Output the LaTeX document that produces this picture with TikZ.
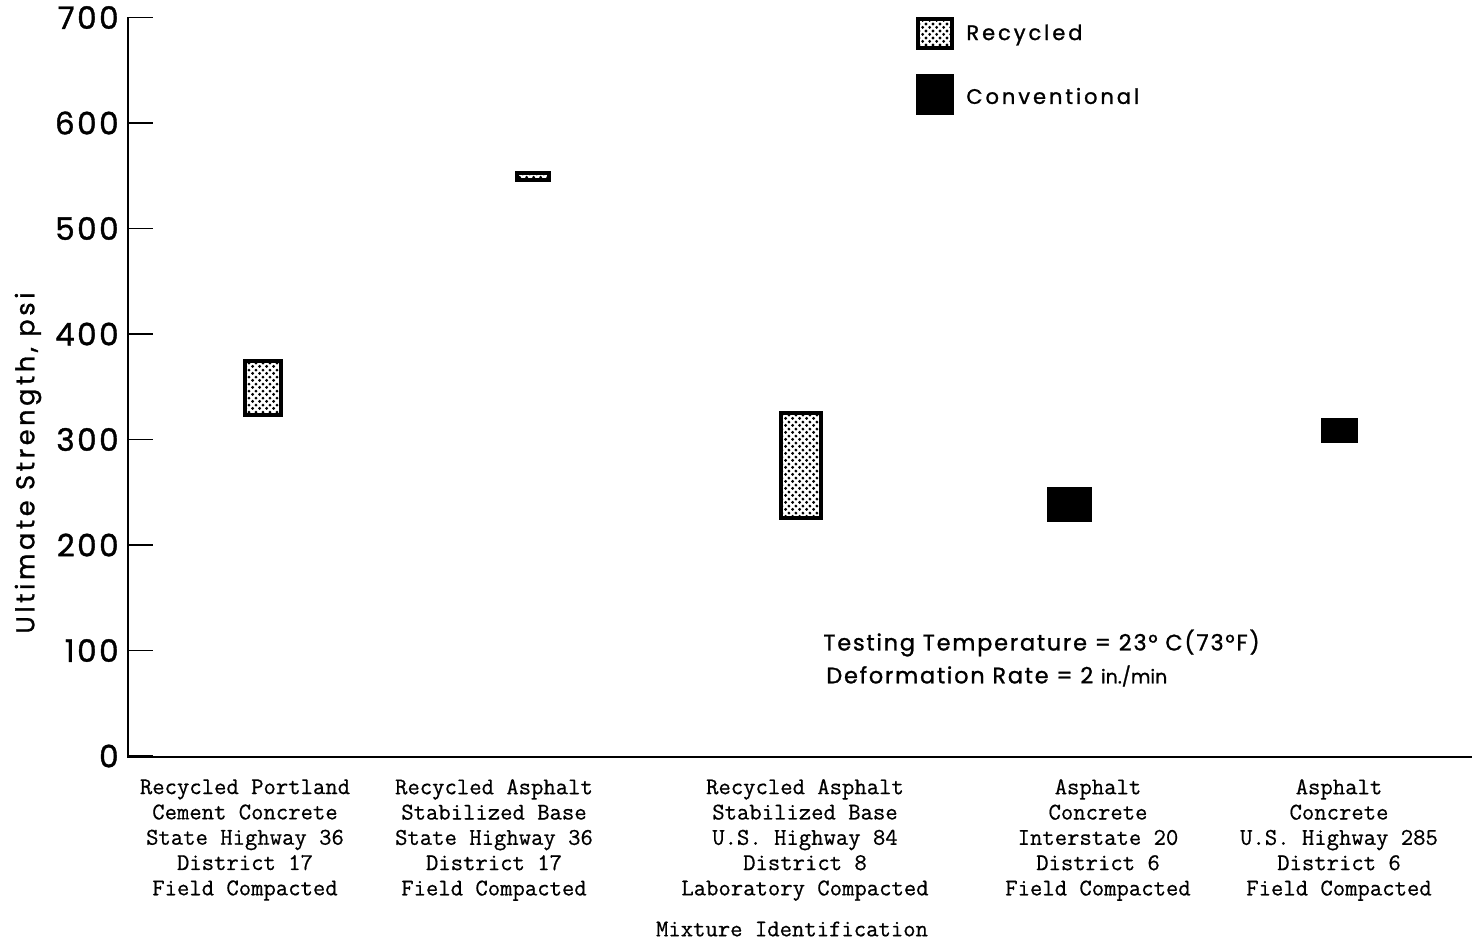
\documentclass[tikz,border=0pt]{standalone}
\usepackage{fontspec}
\newfontfamily\lettering[LetterSpace=8,FakeBold=1.2]{Poppins}
\newfontfamily\letteringwide[LetterSpace=14,FakeBold=1.2]{Poppins}
\newfontfamily\plainsans[FakeBold=1]{Poppins}
\setmonofont{Latin Modern Mono}[FakeBold=0.6]
\usetikzlibrary{patterns,positioning}
\pgfdeclarepatternformonly{dotfill}{\pgfqpoint{0pt}{0pt}}{\pgfqpoint{3.6pt}{3.6pt}}{\pgfqpoint{3.6pt}{3.6pt}}{%
  \pgfpathcircle{\pgfqpoint{0.9pt}{0.9pt}}{0.85pt}%
  \pgfpathcircle{\pgfqpoint{2.7pt}{2.7pt}}{0.85pt}%
  \pgfusepath{fill}}
\tikzset{
  recycled/.style={draw,line width=1.8pt,pattern=dotfill},
  conventional/.style={fill=black},
  ticklabel/.style={anchor=east,inner sep=0pt,font=\lettering\fontsize{15.5}{15.5}\selectfont},
  legendlabel/.style={anchor=west,inner sep=0pt,font=\letteringwide\fontsize{10.5}{10.5}\selectfont},
  notelabel/.style={anchor=west,inner sep=0pt,font=\lettering\fontsize{11.2}{11.2}\selectfont},
  mixlabel/.style={align=center,inner sep=0pt,font=\ttfamily\fontsize{12}{12.65}\selectfont}
}

\begin{document}
\begin{tikzpicture}[x=0.5pt,y=-0.5pt]
\useasboundingbox (0,0) rectangle (1472,942);
% axes
\draw[line width=1pt] (128,17) -- (128,757) -- (1472,757);
\foreach \v in {0,100,...,700} {
  \draw[line width=0.7pt] (128,{756-1.055*\v}) -- (153,{756-1.055*\v});
  \node[ticklabel] (t\v) at (119,{756-1.055*\v}) {\v};
}
\node[rotate=90,inner sep=0pt,font=\letteringwide\fontsize{12.8}{12.8}\selectfont] (ylab) at (28,463) {Ultimate Strength, psi};
% legend
\draw[recycled] (918,19) rectangle (952,48);
\fill[conventional] (916,74) rectangle (954,115);
\node[legendlabel] (lrec) at (966,35) {Recycled};
\node[legendlabel] (lconv) at (966,96) {Conventional};
% bars
\draw[recycled] (245,361) rectangle (281,415);
\draw[recycled] (517,173) rectangle (549,180);
\draw[recycled] (781,413) rectangle (821,518);
\fill[conventional] (1047,487) rectangle (1092,522);
\fill[conventional] (1321,418) rectangle (1358,443);
% test conditions
\node[notelabel] (temp) at (823,643) {Testing Temperature = 23° C(73°F)};
\node[notelabel] (rate) at (826,676) {Deformation Rate = 2 {\plainsans\fontsize{9.5}{9.5}\selectfont in./min}};
% mixtures
\node[mixlabel] (m1) at (245,840) {Recycled Portland\\Cement Concrete\\State Highway 36\\District 17\\Field Compacted};
\node[mixlabel] (m2) at (494,840) {Recycled Asphalt\\Stabilized Base\\State Highway 36\\District 17\\Field Compacted};
\node[mixlabel] (m3) at (805,840) {Recycled Asphalt\\Stabilized Base\\U.S. Highway 84\\District 8\\Laboratory Compacted};
\node[mixlabel] (m4) at (1098,840) {Asphalt\\Concrete\\Interstate 20\\District 6\\Field Compacted};
\node[mixlabel] (m5) at (1339,840) {Asphalt\\Concrete\\U.S. Highway 285\\District 6\\Field Compacted};
\node[mixlabel] (mix) at (792,929) {Mixture Identification};
\end{tikzpicture}
\end{document}
